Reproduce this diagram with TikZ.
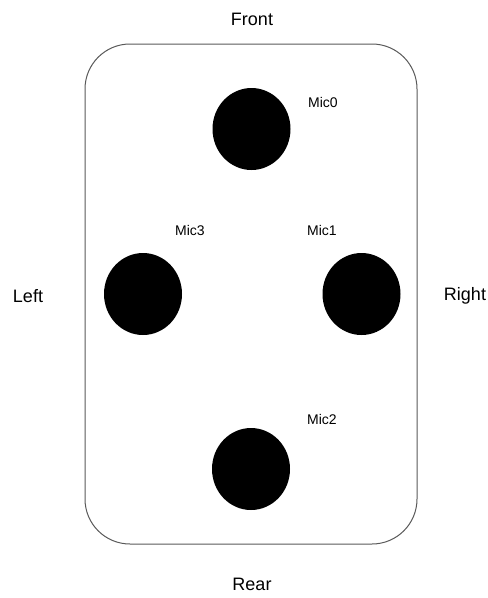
\documentclass[tikz,border=0pt]{standalone}
\usepackage{fontspec}
\setmainfont{Liberation Sans}
\usepackage{tikz}
\usetikzlibrary{shapes.geometric}

\tikzset{
  board/.style={draw=black!65,line width=1pt,rounded corners=45pt,minimum width=332pt,minimum height=500pt},
  mic/.style={ellipse,fill=black,minimum width=78pt,minimum height=82pt,inner sep=0pt},
  miclabel/.style={font=\fontsize{14}{16}\selectfont},
  side/.style={font=\fontsize{18}{20}\selectfont}
}

\begin{document}
\begin{tikzpicture}[x=1pt,y=-1pt]
  \useasboundingbox (0,0) rectangle (488,598);
    \node[board] at (251,294) (board){};
    \node[mic] at (251.5,129) (mic0){};
    \node[mic] at (361.5,294) (mic1){};
    \node[mic] at (251,469) (mic2){};
    \node[mic] at (143,294) (mic3){};
\node[miclabel] at (323,102) (mic0,l) {Mic0};
\node[miclabel] at (322,230) (mic1,l) {Mic1};
\node[miclabel] at (322,419) (mic2,l) {Mic2};
\node[miclabel] at (190,230) (mic3,l) {Mic3};
\node[side] at (252,19) (front) {Front};
\node[side] at (252,584) (rear) {Rear};
\node[side] at (28,296) (left) {Left};
\node[side] at (465,296) (right) {Right};
\end{tikzpicture}
\end{document}
